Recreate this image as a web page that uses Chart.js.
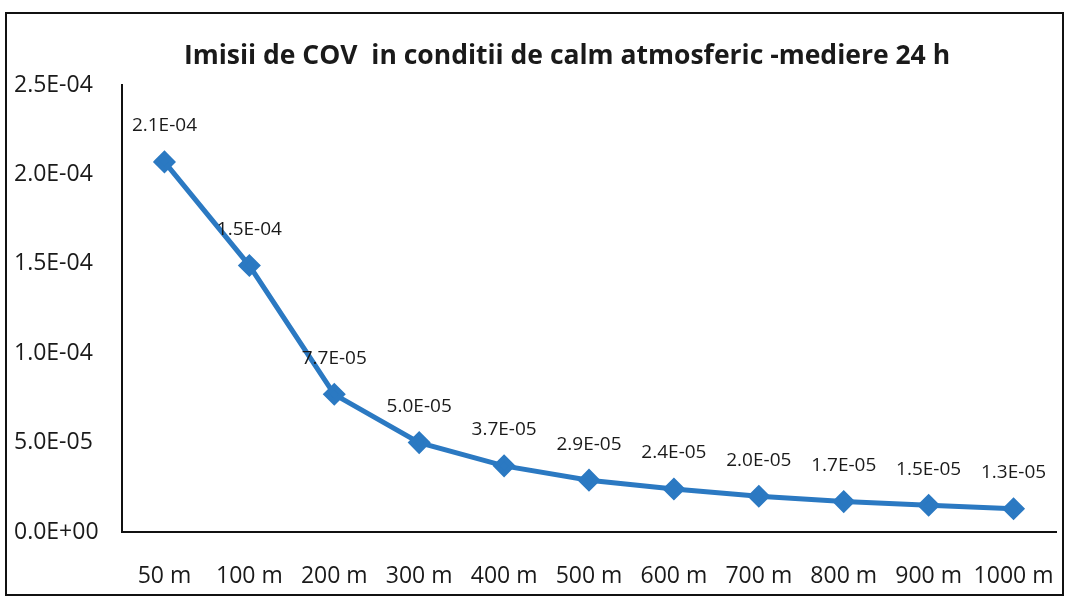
<!DOCTYPE html>
<html>
<head>
<meta charset="utf-8">
<script src="https://cdn.jsdelivr.net/npm/chart.js@4"></script>
<style>
	body { margin: 0; background: #fff; }
	#wrap { position: relative; width: 1069px; height: 599px; }
	#frame { position: absolute; left: 5px; top: 12px; width: 1055px; height: 580px; border: 2px solid #111; pointer-events: none; }
</style>
</head>
<body>
<div id="wrap">
	<canvas id="covChart" width="1069" height="599"></canvas>
	<div id="frame"></div>
</div>
<script>
const distances = ['50 m', '100 m', '200 m', '300 m', '400 m', '500 m', '600 m', '700 m', '800 m', '900 m', '1000 m'];
const covValues = [2.07e-4, 1.49e-4, 7.7e-5, 5.0e-5, 3.7e-5, 2.9e-5, 2.4e-5, 2.0e-5, 1.7e-5, 1.5e-5, 1.3e-5];
const yMax = 2.5e-4;
const yStep = 5e-5;
const titleText = 'Imisii de COV  in conditii de calm atmosferic -mediere 24 h';

const fontName = '"Open Sans", "Noto Sans", sans-serif';

function sci(v) {
	if (Math.abs(v) < 1e-12) return '0.0E+00';
	let [m, e] = v.toExponential(1).split('e');
	let n = parseInt(e);
	return m + 'E' + (n < 0 ? '-' : '+') + String(Math.abs(n)).padStart(2, '0');
};

// title drawn by hand so it can sit off-centre like the original
const titleDraw = {
	id: 'titleDraw',
	afterDraw(chart) {
		const ctx = chart.ctx;
		ctx.save();
		ctx.font = 'bold 26.5px ' + fontName;
		ctx.fillStyle = '#1a1a1a';
		ctx.textAlign = 'center';
		ctx.textBaseline = 'middle';
		ctx.fillText(titleText, 567, 56);
		ctx.restore();
	}
};

// value labels above every point
const pointLabels = {
	id: 'pointLabels',
	afterDatasetsDraw(chart) {
		const ctx = chart.ctx;
		const meta = chart.getDatasetMeta(0);
		ctx.save();
		ctx.font = '19px ' + fontName;
		ctx.fillStyle = '#1a1a1a';
		ctx.textAlign = 'center';
		ctx.textBaseline = 'middle';
		meta.data.forEach((pt, i) => {
			ctx.fillText(sci(covValues[i]), pt.x, pt.y - 36);
		});
		ctx.restore();
	}
};

const covChart = new Chart(document.getElementById('covChart'), {
	type: 'line',
	data: {
		labels: distances,
		datasets: [{
			label: 'COV',
			data: covValues,
			borderColor: '#2b79c2',
			backgroundColor: '#2b79c2',
			borderWidth: 5,
			pointStyle: 'rectRot',
			pointRadius: 8,
			pointHoverRadius: 8,
			tension: 0
		}]
	},
	options: {
		responsive: false,
		animation: false,
		layout: { padding: { left: 14, right: 12, top: 85, bottom: 8 } },
		plugins: {
			legend: { display: false },
			tooltip: { enabled: false },
			title: { display: false }
		},
		scales: {
			x: {
				offset: true,
				grid: { display: false, drawTicks: false },
				border: { display: true, color: '#111', width: 2 },
				afterFit(scale) {
					scale.height = 59;
					scale.paddingLeft = 0;
					scale.paddingRight = 0;
				},
				ticks: { color: '#1a1a1a', font: { family: fontName, size: 23 }, padding: 31, maxRotation: 0 }
			},
			y: {
				min: 0,
				max: yMax,
				grid: { display: false, drawTicks: false },
				border: { display: true, color: '#111', width: 2 },
				afterFit(scale) {
					scale.width = 108;
					scale.paddingTop = 0;
					scale.paddingBottom = 0;
				},
				ticks: {
					stepSize: yStep,
					crossAlign: 'far',
					color: '#1a1a1a',
					font: { family: fontName, size: 23 },
					callback: v => sci(v)
				}
			}
		}
	},
	plugins: [pointLabels, titleDraw]
});
</script>
</body>
</html>
